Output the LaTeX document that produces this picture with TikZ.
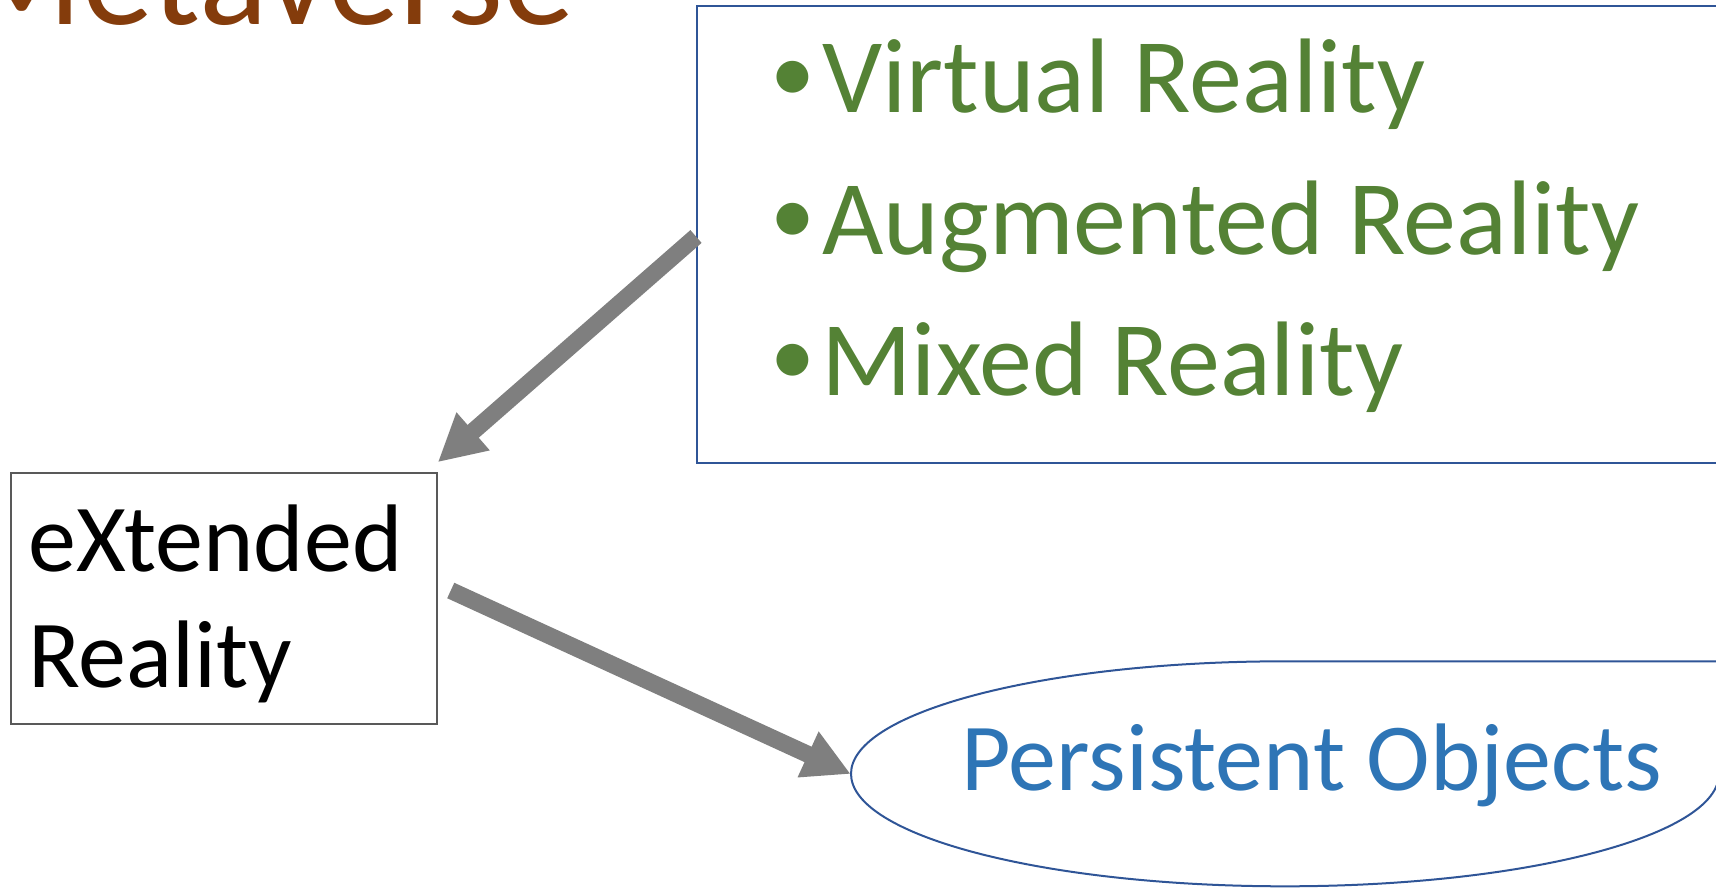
\documentclass[tikz,border=0pt]{standalone}
\usepackage{fontspec}
\setmainfont{Carlito}
\usetikzlibrary{arrows.meta,calc,shapes.geometric}
\definecolor{boxblue}{RGB}{47,85,151}
\definecolor{greentxt}{RGB}{84,130,53}
\definecolor{browntxt}{RGB}{132,60,12}
\definecolor{bluetxt}{RGB}{46,117,182}
\definecolor{arrowgray}{RGB}{127,127,127}
\definecolor{xrborder}{RGB}{89,89,89}
\tikzset{
  txt/.style={inner sep=0pt, anchor=base west},
  bul/.style={inner sep=0pt, anchor=center, text=greentxt, font=\fontsize{90}{108}\selectfont},
  listtxt/.style={txt, text=greentxt, font=\fontsize{106}{127}\selectfont},
  bigarrow/.style={line width=17pt, draw=arrowgray, -{Triangle[length=47pt,width=47pt]}},
}
\begin{document}
\begin{tikzpicture}[x=1pt,y=-1pt]
\useasboundingbox (0,0) rectangle (1716,892);
\clip (0,0) rectangle (1716,892);
% title
\node[txt, text=browntxt, font=\fontsize{143}{170}\selectfont] (title) at (-40,24) {Metaverse};
% green list box
\node[draw=boxblue, line width=2pt, minimum width=1033pt, minimum height=457pt, inner sep=0pt] (vrbox) at (1213.5,234.5) {};
\node[bul] (b1) at (793,82) {•};
\node[bul] (b2) at (793,224) {•};
\node[bul] (b3) at (793,365) {•};
\node[listtxt] (l1) at (822,112) {Virtual Reality};
\node[listtxt] (l2) at (822,254) {Augmented Reality};
\node[listtxt] (l3) at (821,395) {Mixed Reality};
% eXtended Reality box
\node[draw=xrborder, line width=1.5pt, minimum width=426pt, minimum height=251pt, inner sep=0pt] (xr) at (224,598.5) {};
\node[txt, font=\fontsize{96}{115}\selectfont] (xr1) at (28,571) {eXtended};
\node[txt, font=\fontsize{96}{115}\selectfont] (xr2) at (28,687) {Reality};
% persistent objects ellipse
\node[ellipse, draw=none, minimum width=868pt, minimum height=225pt, inner sep=0pt] (po) at (1285,774) {};
\draw[boxblue, line width=2pt] ($(po.north)+(500,0)$) -- (po.north)
  arc[start angle=90, end angle=360, x radius=434pt, y radius=112.5pt];
\node[txt, text=bluetxt, font=\fontsize{96}{115}\selectfont] (potext) at (961,790) {Persistent Objects};
% arrows
\draw[bigarrow] ($(vrbox.west)+(0,2)$) -- ($(xr.north east)+(0,-10)$);
\draw[bigarrow] ($(xr.east)+(13,-8)$) -- (po.west);
\end{tikzpicture}
\end{document}
